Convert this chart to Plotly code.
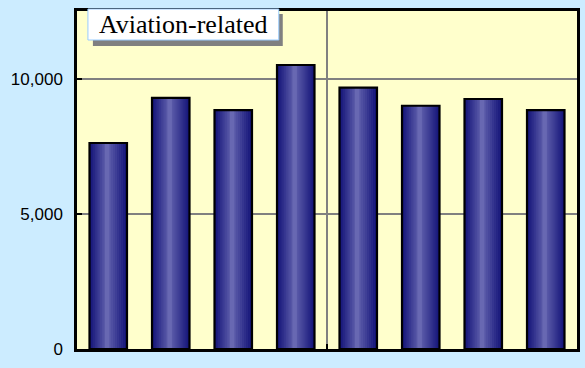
import plotly.graph_objects as go

# Data
categories = [0, 1, 2, 3, 4, 5, 6, 7]
values = [7630, 9300, 8850, 10520, 9680, 9010, 9260, 8850]
title_text = "Aviation-related"
y_tickvals = [0, 5000, 10000]
y_ticktext = ["0", "5,000", "10,000"]

W, H = 585, 368
L, R, T, B = 77, 5, 11, 19
pw, ph = W - L - R, H - T - B

fig = go.Figure()

# gradient bars built from overlaid layers
bw = 0.6
left0 = -bw / 2
center_t = 0.47
N = 10
dark = (22, 22, 122)
light = (104, 104, 178)
for k in range(N + 1):
    f = k / N
    tl = center_t * f
    tr = 1 - (1 - center_t) * f
    if k == N:
        tl = center_t - 0.06
        tr = center_t + 0.06
    c = tuple(int(dark[i] + (light[i] - dark[i]) * f) for i in range(3))
    fig.add_trace(go.Bar(
        x=categories, y=values,
        offset=left0 + bw * tl, width=bw * (tr - tl),
        marker=dict(color="rgb(%d,%d,%d)" % c, line=dict(width=0)),
        hoverinfo="skip", showlegend=False,
    ))
# outline
fig.add_trace(go.Bar(
    x=categories, y=values, offset=left0, width=bw,
    marker=dict(color="rgba(0,0,0,0)", line=dict(color="black", width=2.2)),
    showlegend=False,
))

def px(x):
    return (x - L) / pw

def py(y):
    return (H - B - y) / ph

shapes = [
    dict(type="rect", xref="paper", yref="paper",
         x0=px(93), x1=px(284), y0=py(46), y1=py(14),
         fillcolor="#808080", line=dict(width=0), layer="above"),
    dict(type="rect", xref="paper", yref="paper",
         x0=px(88), x1=px(280), y0=py(40), y1=py(9),
         fillcolor="white", line=dict(color="#99CCFF", width=1), layer="above"),
]

fig.add_annotation(
    xref="paper", yref="paper", x=(px(88) + px(280)) / 2, y=(py(40) + py(9)) / 2,
    text=title_text, showarrow=False, xanchor="center", yanchor="middle",
    font=dict(family="Liberation Serif", size=26, color="black"),
)

fig.update_layout(
    width=W, height=H,
    margin=dict(l=L, r=R, t=T, b=B, pad=0),
    paper_bgcolor="#CCECFF", plot_bgcolor="#FFFFCC",
    barmode="overlay",
    shapes=shapes,
    xaxis=dict(range=[-0.5, 7.5], tickvals=[3.5], showticklabels=False,
               showgrid=True, gridcolor="#808080", gridwidth=2,
               ticks="inside", ticklen=5, tickcolor="black", tickwidth=2,
               showline=True, linecolor="black", linewidth=2.5, mirror=True,
               zeroline=False),
    yaxis=dict(range=[0, 12520], tickvals=y_tickvals, ticktext=y_ticktext,
               showgrid=True, gridcolor="#808080", gridwidth=2,
               ticks="inside", ticklen=5, tickcolor="black", tickwidth=2,
               showline=True, linecolor="black", linewidth=2.5, mirror=True,
               zeroline=False, ticklabelstandoff=8,
               tickfont=dict(family="Liberation Sans", size=17, color="black")),
)

fig.write_html("out.html", config={"displayModeBar": False},
               post_script="document.body.style.margin='0';")
